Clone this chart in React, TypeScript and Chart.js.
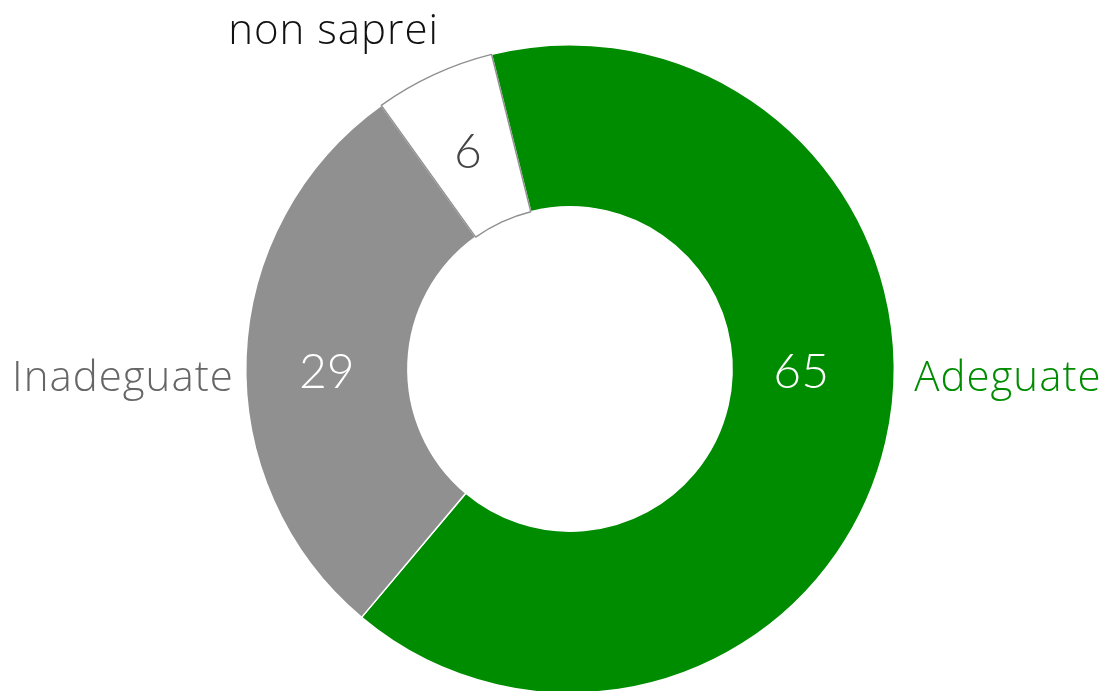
import React, { useEffect, useRef } from "react";
import { Chart, registerables } from "chart.js";

Chart.register(...registerables);

const categories = ["Adeguate", "Inadeguate", "non saprei"];
const values = [65, 29, 6];
const sliceColors = ["#008c00", "#909090", "#ffffff"];
const sliceBorders = ["#ffffff", "#ffffff", "#909090"];
const labelColors = ["#008c00", "#666666", "#111111"];
const valueColors = ["#ffffff", "#ffffff", "#444444"];

const NUM_FONT = "Lato, 'Open Sans', sans-serif";
const LABEL_FONT = "'Open Sans', Lato, sans-serif";

const labelPlugin = {
  id: "sliceLabels",
  afterDraw(chart: any) {
    const ctx = chart.ctx;
    const meta = chart.getDatasetMeta(0);
    meta.data.forEach((arc: any, i: number) => {
      const { x, y, startAngle, endAngle, innerRadius, outerRadius } = arc.getProps(
        ["x", "y", "startAngle", "endAngle", "innerRadius", "outerRadius"],
        true
      );
      const norm = (a: number) => ((a % (2 * Math.PI)) + 2 * Math.PI) % (2 * Math.PI);
      const contains = (a: number) => {
        const s = norm(startAngle);
        const span = endAngle - startAngle;
        const d = norm(a - s);
        return d <= span;
      };
      let ang = (startAngle + endAngle) / 2;
      let mode = "top";
      if (contains(0)) {
        ang = 0;
        mode = "right";
      } else if (contains(Math.PI)) {
        ang = Math.PI;
        mode = "left";
      }
      const mid = (innerRadius + outerRadius) / 2;
      const vx = x + Math.cos(ang) * (mode === "right" ? mid - 12 : mid);
      const vy = y + Math.sin(ang) * mid;
      ctx.save();
      ctx.font = `300 48px ${NUM_FONT}`;
      ctx.fillStyle = valueColors[i];
      ctx.textAlign = "center";
      ctx.textBaseline = "middle";
      ctx.fillText(String(values[i]), vx, vy + 4);

      ctx.font = `300 42px ${LABEL_FONT}`;
      (ctx as any).letterSpacing = "1px";
      ctx.fillStyle = labelColors[i];
      if (mode === "right") {
        ctx.textAlign = "left";
        ctx.fillText(categories[i], x + outerRadius + 20, y + 10);
      } else if (mode === "left") {
        ctx.textAlign = "right";
        ctx.fillText(categories[i], x - outerRadius - 12, y + 10);
      } else {
        ctx.textAlign = "right";
        ctx.fillText(categories[i], x + Math.cos(ang) * outerRadius + 5, y - outerRadius - 13);
      }
      ctx.restore();
    });
  },
};

export default function App() {
  const ref = useRef<HTMLCanvasElement>(null);
  useEffect(() => {
    document.body.style.margin = "0";
    const chart = new Chart(ref.current!, {
      type: "doughnut",
      data: {
        labels: categories,
        datasets: [
          {
            data: values,
            backgroundColor: sliceColors,
            borderColor: sliceBorders,
            borderWidth: 1.5,
          },
        ],
      },
      options: {
        animation: false,
        responsive: false,
        cutout: "50%",
        rotation: -14,
        layout: { padding: { left: 243, right: 211, top: 44, bottom: 6 } },
        plugins: { legend: { display: false }, tooltip: { enabled: false } },
      },
      plugins: [labelPlugin],
    });
    return () => chart.destroy();
  }, []);
  return (
    <div style={{ position: "fixed", left: 0, top: 0, width: 1108, height: 691, overflow: "hidden", background: "#fff" }}>
      <canvas ref={ref} width={1108} height={700} style={{ display: "block", width: 1108, height: 700 }} />
    </div>
  );
}
